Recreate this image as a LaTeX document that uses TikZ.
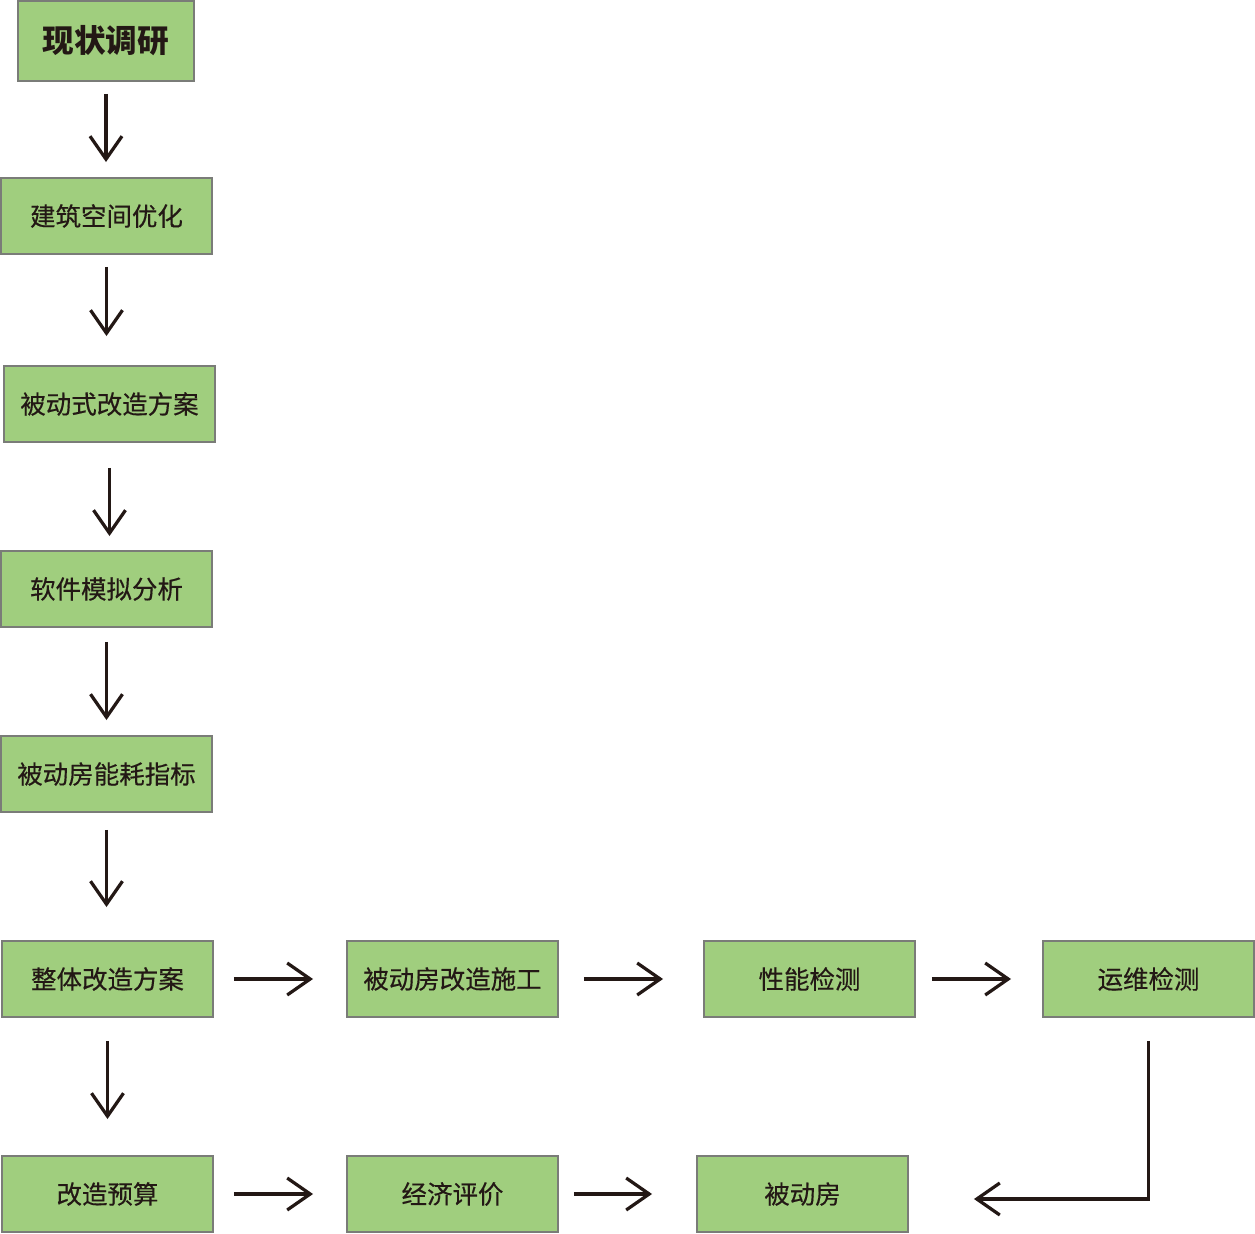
\documentclass[tikz,border=0pt]{standalone}
\usepackage{fontspec}
\newfontfamily\cjk[FakeBold=0.4]{Noto Sans CJK SC}
\newfontfamily\cjkhead{Noto Sans CJK SC}
\usepackage{tikz}
\usetikzlibrary{positioning,arrows.meta}

\definecolor{boxgreen}{RGB}{160,206,126}
\definecolor{boxgray}{RGB}{122,124,120}
\definecolor{arrowink}{RGB}{35,24,21}

\tikzset{
  box/.style={draw=boxgray, fill=boxgreen, line width=0.04cm,
    minimum width=4.22cm, minimum height=1.52cm, inner sep=0pt,
    font=\cjk\fontsize{14.5}{16}\selectfont, text=arrowink},
  flow/.style={draw=arrowink, line width=0.065cm,
    -{Straight Barb[length=0.46cm, width=0.64cm, line width=0.065cm]}},
}

\begin{document}
\begin{tikzpicture}[x=0.02cm, y=-0.02cm]
\useasboundingbox (0,0) rectangle (1255,1234);

\node[box, minimum width=3.52cm, minimum height=1.6cm,
  font=\cjkhead\bfseries\fontsize{18}{20}\selectfont] (s1) at (106,41) {现状调研};
\node[box] (s2) at (106.5,216) {建筑空间优化};
\node[box] (s3) at (109.5,404) {被动式改造方案};
\node[box] (s4) at (106.5,589) {软件模拟分析};
\node[box] (s5) at (106.5,774) {被动房能耗指标};
\node[box] (s6) at (107.5,979) {整体改造方案};
\node[box] (s7) at (452.5,979) {被动房改造施工};
\node[box] (s8) at (809.5,979) {性能检测};
\node[box] (s9) at (1148.5,979) {运维检测};
\node[box] (s10) at (107.5,1194) {改造预算};
\node[box] (s11) at (452.5,1194) {经济评价};
\node[box] (s12) at (802.5,1194) {被动房};

% main column
\draw[flow, shorten <=0.24cm, shorten >=0.3cm] (s1.south) -- (s1.south |- s2.north);
\draw[flow, shorten <=0.24cm, shorten >=0.58cm] (s2.south) -- (s2.south |- s3.north);
\draw[flow, shorten <=0.5cm, shorten >=0.28cm] (s3.south) -- (s3.south |- s4.north);
\draw[flow, shorten <=0.28cm, shorten >=0.3cm] (s4.south) -- (s4.south |- s5.north);
\draw[flow, shorten <=0.34cm, shorten >=0.66cm] (s5.south) -- (s5.south |- s6.north);
\draw[flow, shorten <=0.46cm, shorten >=0.72cm] (s6.south) -- (s6.south |- s10.north);

% rows
\draw[flow, shorten <=0.4cm, shorten >=0.66cm] (s6.east) -- (s7.west);
\draw[flow, shorten <=0.5cm, shorten >=0.8cm] (s7.east) -- (s8.west);
\draw[flow, shorten <=0.32cm, shorten >=0.62cm] (s8.east) -- (s9.west);
\draw[flow, shorten <=0.4cm, shorten >=0.66cm] (s10.east) -- (s11.west);
\draw[flow, shorten <=0.3cm, shorten >=0.88cm] (s11.east) -- (s12.west);
\draw[flow, shorten <=0.46cm, shorten >=1.3cm] (s9.south) |- ([yshift=-0.1cm]s12.east);
\end{tikzpicture}
\end{document}
